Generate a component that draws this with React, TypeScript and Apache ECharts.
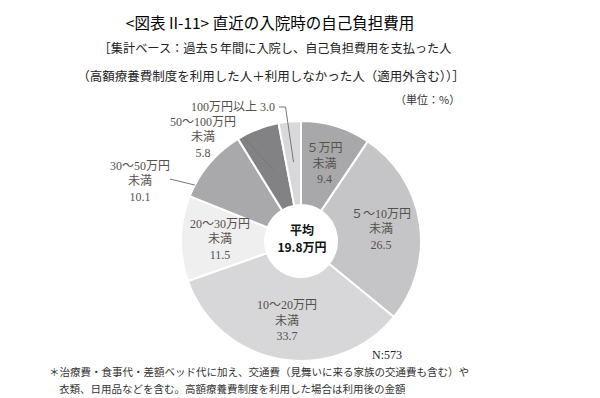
import React, { useEffect, useRef } from "react";
import * as echarts from "echarts";

const categories = [
  "５万円\n未満",
  "５～10万円\n未満",
  "10～20万円\n未満",
  "20～30万円\n未満",
  "30～50万円\n未満",
  "50～100万円\n未満",
  "100万円以上",
];
const values = [9.4, 26.5, 33.7, 11.5, 10.1, 5.8, 3.0];
const sliceColors = ["#a8a8aa", "#c5c5c7", "#d7d7d9", "#efefef", "#a9a9ab", "#828284", "#d8d8da"];
const titleText = "<図表 II-11> 直近の入院時の自己負担費用";
const subtitle1 = "［集計ベース：過去５年間に入院し、自己負担費用を支払った人";
const subtitle2 = "（高額療養費制度を利用した人＋利用しなかった人（適用外含む））］";
const unitText = "（単位：%）";
const nText = "N:573";
const note1 = "＊治療費・食事代・差額ベッド代に加え、交通費（見舞いに来る家族の交通費も含む）や";
const note2 = "衣類、日用品などを含む。高額療養費制度を利用した場合は利用後の金額";
const centerText = "平均\n19.8万円";

const CX = 301;
const CY = 241;
const R = 120;
const R0 = 36;
const FONT = "'Noto Sans CJK JP', 'Noto Sans', sans-serif";
const LABEL_FONT = "'Liberation Serif', 'Noto Sans CJK JP', serif";
const LABEL_COLOR = "#56504b";
const LINE_COLOR = "#777";

// point on the pie at a fraction t within slice i, radius ratio k
function piePoint(i: number, t: number, k: number): number[] {
  const total = values.reduce((a, b) => a + b, 0);
  let cum = 0;
  for (let j = 0; j < i; j++) cum += values[j];
  const frac = (cum + values[i] * t) / total;
  const ang = frac * Math.PI * 2;
  return [CX + Math.sin(ang) * R * k, CY - Math.cos(ang) * R * k];
}

export default function App() {
  const ref = useRef<HTMLDivElement>(null);
  useEffect(() => {
    if (!ref.current) return;
    const chart = echarts.init(ref.current, null, { renderer: "svg" });
    const data = categories.map((name, i) => {
      const outside = i >= 4;
      const labelText = i === 6 ? `${name} ${values[i].toFixed(1)}` : `${name}\n${values[i].toFixed(1)}`;
      return {
        name,
        value: values[i],
        itemStyle: { color: sliceColors[i] },
        label: {
          show: true,
          position: outside ? "outside" : "inside",
          formatter: labelText,
        },
        labelLine: { show: false },
      };
    });
    const p4 = piePoint(4, 0.16, 1.0);
    const p5 = piePoint(5, 0.5, 0.64);
    const p6 = piePoint(6, 0.5, 0.66);
    chart.setOption({
      animation: false,
      textStyle: { fontFamily: FONT },
      title: [
        {
          text: titleText,
          left: 265,
          top: 9,
          textAlign: "center",
          textStyle: { fontSize: 15.5, fontWeight: "normal", color: "#000", fontFamily: FONT },
        },
        {
          text: subtitle1,
          left: 270,
          top: 37,
          textAlign: "center",
          textStyle: { fontSize: 12.2, fontWeight: "normal", color: "#222", fontFamily: FONT },
        },
        {
          text: subtitle2,
          left: 266,
          top: 64,
          textAlign: "center",
          textStyle: { fontSize: 12.5, fontWeight: "normal", color: "#222", fontFamily: FONT },
        },
      ],
      graphic: [
        {
          type: "text",
          left: 395,
          top: 93,
          style: { text: unitText, fontSize: 11, fill: "#333", fontFamily: FONT },
        },
        {
          type: "text",
          left: 372,
          top: 349,
          style: { text: nText, fontSize: 12, fill: "#222", fontFamily: "'Liberation Serif', serif" },
        },
        {
          type: "text",
          left: 49,
          top: 366,
          style: { text: note1, fontSize: 10.5, fill: "#333", fontFamily: FONT },
        },
        {
          type: "text",
          left: 59,
          top: 383,
          style: { text: note2, fontSize: 10.5, fill: "#333", fontFamily: FONT },
        },
        {
          type: "text",
          x: CX + 1,
          y: CY - 3,
          style: {
            text: centerText,
            fontSize: 12,
            fontWeight: "bold",
            fill: "#111",
            align: "center",
            verticalAlign: "middle",
            lineHeight: 17,
            fontFamily: FONT,
          },
        },
        {
          type: "polyline",
          z: 10,
          shape: { points: [p4, [170, 179]] },
          style: { stroke: LINE_COLOR, lineWidth: 1, fill: "none" },
        },
        {
          type: "polyline",
          z: 10,
          shape: { points: [p5, [243, 137]] },
          style: { stroke: LINE_COLOR, lineWidth: 1, fill: "none" },
        },
        {
          type: "polyline",
          z: 10,
          shape: { points: [p6, [p6[0] - 8, 107], [279, 107]] },
          style: { stroke: LINE_COLOR, lineWidth: 1, fill: "none" },
        },
      ],
      series: [
        {
          type: "pie",
          center: [CX, CY],
          radius: [R0, R],
          startAngle: 90,
          clockwise: true,
          avoidLabelOverlap: false,
          itemStyle: { borderColor: "#fff", borderWidth: 2 },
          label: {
            color: LABEL_COLOR,
            fontSize: 12,
            lineHeight: 15.5,
            align: "center",
            fontFamily: LABEL_FONT,
          },
          labelLine: { show: false },
          labelLayout: (params: any) => {
            const i = params.dataIndex;
            if (i === 4) return { x: 140, y: 181, align: "center", verticalAlign: "middle" };
            if (i === 5) return { x: 203, y: 137, align: "center", verticalAlign: "middle" };
            if (i === 6) return { x: 233, y: 107, align: "center", verticalAlign: "middle" };
            return {};
          },
          data,
        },
      ],
    });
    return () => chart.dispose();
  }, []);
  return (
    <div
      ref={ref}
      style={{ position: "fixed", left: 0, top: 0, width: 600, height: 398, background: "#fff" }}
    />
  );
}
